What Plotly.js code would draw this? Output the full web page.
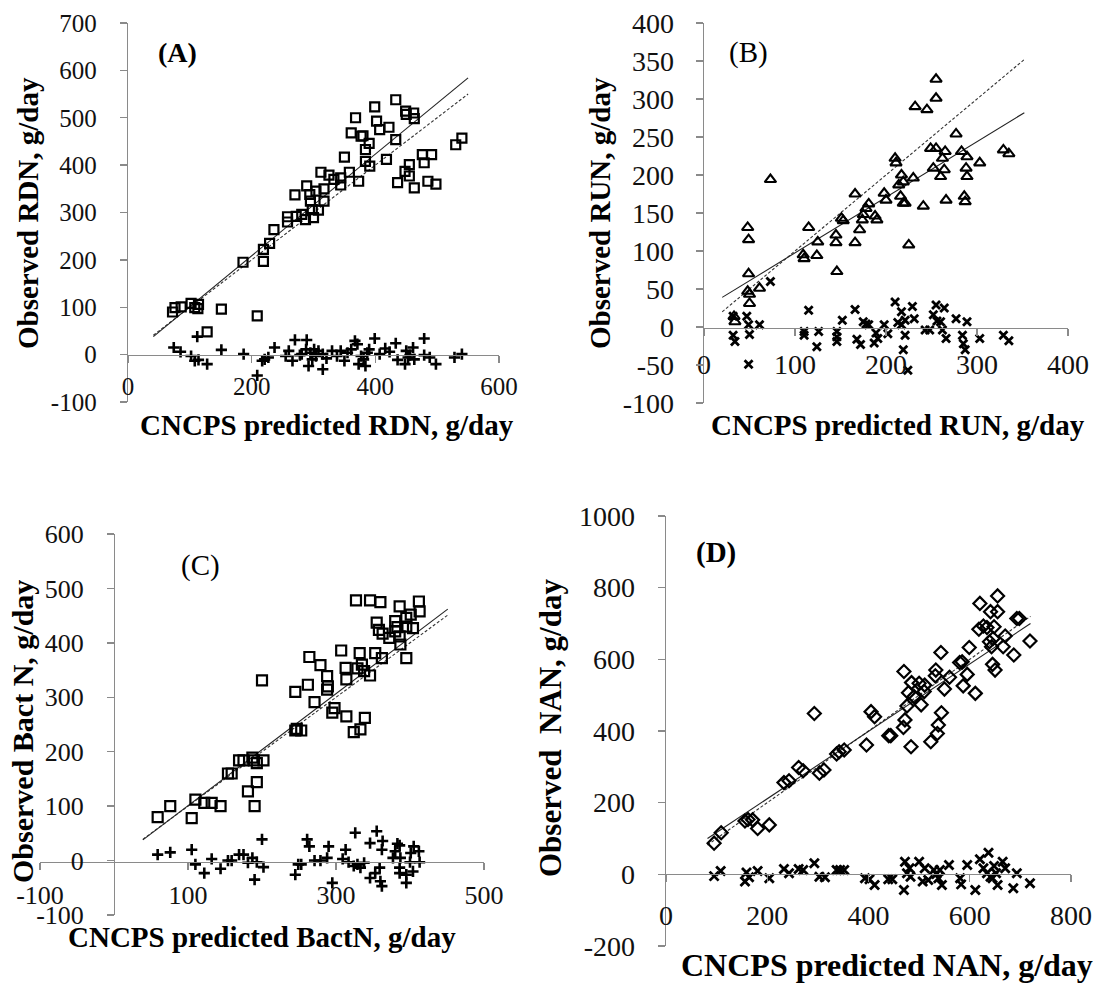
<!DOCTYPE html>
<html>
<head>
<meta charset="utf-8">
<script src="https://cdn.plot.ly/plotly-3.0.1.min.js"></script>
<style>html,body{margin:0;padding:0;background:#fff}#chart{width:1098px;height:984px}</style>
</head>
<body>
<div id="chart"></div>
<script>
// ---------- Panel A: RDN ----------
const predRDN = [72,76,86,102,108,114,113,151,128,209,186,219,219,229,236,258,258,270,272,281,287,289,294,295,298,300,304,308,312,317,317,325,333,344,344,350,358,361,368,373,377,380,384,384,390,391,399,402,407,422,418,433,433,436,448,449,450,455,455,462,463,463,476,479,485,491,498,530,540];
const obsRDN = [90,99,101,108,99,106,97,96,48,82,195,197,222,235,264,280,291,337,292,296,285,356,338,324,306,289,345,305,385,350,324,379,370,373,358,417,385,468,500,366,461,462,433,408,446,398,523,493,475,480,412,538,454,363,387,514,507,401,377,510,498,352,422,405,366,422,360,443,457];
const resPredRDN = [74,85,102,108,112,114,128,151,187,209,217,221,227,237,255,260,266,270,278,281,289,288,292,295,298,301,304,308,315,315,321,330,338,344,350,355,361,367,371,373,377,381,384,387,390,399,407,416,423,433,436,448,450,453,456,461,463,479,479,488,498,528,540];
const resRDN = [15,6,-3,-13,38,-11,-20,10,1,-44,-13,-10,-6,15,-3,8,-13,31,-1,1,31,11,-24,4,-10,11,-3,8,-31,1,-8,8,-3,8,-13,4,11,29,22,-20,-3,-10,-24,4,11,34,1,13,6,24,-11,-20,8,-6,-1,15,-10,34,-1,-6,-20,-6,1];
const lineXA = [41, 550];
const fitYA = [38, 584];
const xTicksA = [0, 200, 400, 600];
const yTicksA = [-100, 0, 100, 200, 300, 400, 500, 600, 700];

// ---------- Panel B: RUN ----------
const predRUN = [33,34,48,49,49,48,50,50,61,73,109,110,115,125,124,145,145,146,151,153,166,166,171,174,175,178,181,188,190,198,200,210,211,214,216,217,219,219,221,225,230,232,241,245,249,252,255,255,255,260,262,264,265,266,277,283,286,287,288,289,289,303,329,335];
const obsRUN = [14,7,131,115,70,47,43,31,51,194,95,90,131,112,94,121,111,73,143,140,175,111,128,141,148,156,162,146,141,176,167,222,216,187,172,200,191,163,163,108,196,290,159,286,235,209,326,301,235,198,222,207,231,167,254,231,172,165,209,224,198,216,233,228];
const resPredRUN = [32,32,34,47,49,50,49,61,73,110,110,115,126,124,146,146,146,152,166,168,172,175,178,181,187,189,191,198,202,210,213,217,217,219,221,221,224,229,231,243,248,252,255,256,260,262,264,266,277,284,285,287,289,303,329,335];
const resRUN = [14,-11,-19,14,3,-10,-49,3,60,-6,-11,22,-6,-26,-6,-13,-19,9,23,-16,-23,7,4,3,-21,-8,-15,3,-9,33,6,20,3,-30,9,-11,-57,27,11,-4,-4,16,29,8,7,-4,25,-15,11,-11,-22,-30,7,-15,-11,-18];
const lineXB = [20, 352];
const fitYB = [39, 282];
const xTicksB = [0, 100, 200, 300, 400];
const yTicksB = [-100, -50, 0, 50, 100, 150, 200, 250, 300, 350, 400];

// ---------- Panel C: Bact N ----------
const predBactN = [59,76,105,110,122,132,144,154,159,169,175,181,187,189,190,193,193,202,200,245,247,253,245,262,264,271,279,288,288,289,295,298,307,313,314,314,324,327,329,332,333,335,338,339,346,346,355,353,358,360,362,363,372,380,380,383,386,386,387,395,395,395,401,404,412,413];
const obsBactN = [80,100,78,112,106,106,100,160,160,184,184,127,189,184,100,179,144,184,331,239,242,239,310,323,374,291,359,339,314,320,272,280,386,354,333,265,236,478,353,381,241,360,348,262,340,478,437,381,424,475,372,417,409,440,421,429,467,412,397,372,430,446,452,427,476,458];
const resPredBactN = [59,76,105,110,122,132,144,154,159,169,175,181,187,190,193,200,202,245,249,253,261,264,271,279,288,290,295,309,313,317,324,326,329,333,338,346,346,353,355,359,360,362,362,363,377,380,383,386,386,386,387,395,395,400,401,404,405,412,413];
const resBactN = [11,15,20,-7,-23,3,-15,0,0,11,11,-4,5,-35,-3,39,-12,-26,-7,-7,39,26,0,0,5,26,-41,3,20,-3,-10,51,-7,-13,-4,-32,32,-23,54,-13,-38,20,-47,36,5,17,31,28,-13,-23,5,-41,-26,-3,14,-20,26,17,-3];
const lineXC = [39, 451];
const fitYC = [38, 462];
const xTicksC = [-100, 100, 300, 500];
const yTicksC = [-100, 0, 100, 200, 300, 400, 500, 600];

// ---------- Panel D: NAN ----------
const predNAN = [95,109,156,162,171,181,204,233,243,262,271,293,303,312,337,342,352,396,405,412,440,444,470,469,472,476,479,484,485,490,500,504,510,511,523,532,533,536,538,544,543,550,560,580,585,587,595,599,611,620,618,627,634,639,641,643,645,646,648,650,655,655,666,670,687,693,698,719];
const obsNAN = [87,116,149,153,152,128,138,256,261,298,289,449,282,291,336,342,347,361,454,440,387,387,566,410,431,470,507,356,535,496,533,473,510,528,370,554,570,393,417,451,619,517,550,591,593,526,558,633,505,756,684,693,689,649,733,635,586,658,691,570,777,733,635,665,612,714,714,651];
const resPredNAN = [95,108,156,159,164,181,204,233,243,262,271,293,303,314,337,344,352,393,402,412,439,447,470,472,476,481,483,500,507,511,518,529,534,538,541,545,559,581,583,595,611,620,627,634,637,641,645,648,652,655,665,670,686,693,719];
const resNAN = [-5,9,-20,5,-8,9,-11,15,3,15,12,31,-7,-8,12,12,12,-11,-14,-30,-14,-14,-44,35,3,17,-7,35,-20,17,-16,12,1,-11,12,-30,26,-11,-28,26,-44,42,17,3,60,-7,-11,23,3,-30,35,17,-39,3,-25];
const lineXD = [82, 720];
const fitYD = [100, 700];
const xTicksD = [0, 200, 400, 600, 800];
const yTicksD = [-200, 0, 200, 400, 600, 800, 1000];

// ---------- Text ----------
const panelLabels = ['(A)', '(B)', '(C)', '(D)'];
const xTitles = ['CNCPS predicted RDN, g/day', 'CNCPS predicted RUN, g/day', 'CNCPS predicted BactN, g/day', 'CNCPS predicted NAN, g/day'];
const yTitles = ['Observed RDN, g/day', 'Observed RUN, g/day', 'Observed Bact N, g/day', 'Observed\u00a0 NAN, g/day'];

const FONT = 'Liberation Serif';
const INK = '#000';

function lineTraces(xs, ys, ax) {
  return [
    {x: xs, y: xs, xaxis: 'x' + ax, yaxis: 'y' + ax, mode: 'lines', type: 'scatter',
     line: {color: '#333', width: 1.1, dash: '3px,2px'}, hoverinfo: 'skip', cliponaxis: false},
    {x: xs, y: ys, xaxis: 'x' + ax, yaxis: 'y' + ax, mode: 'lines', type: 'scatter',
     line: {color: '#222', width: 1.1}, hoverinfo: 'skip', cliponaxis: false}
  ];
}
function markTrace(xs, ys, ax, symbol, size, lw) {
  return {x: xs, y: ys, xaxis: 'x' + ax, yaxis: 'y' + ax, mode: 'markers', type: 'scatter', cliponaxis: false,
    marker: {symbol: symbol, size: size, color: INK, line: {color: INK, width: lw}}};
}

const data = [].concat(
  lineTraces(lineXA, fitYA, ''),
  [markTrace(predRDN, obsRDN, '', 'square-open', 9, 2.2), markTrace(resPredRDN, resRDN, '', 'cross-thin-open', 8, 2.6)],
  lineTraces(lineXB, fitYB, '2'),
  [markTrace(predRUN, obsRUN, '2', 'triangle-up-open', 10, 2.1), markTrace(resPredRUN, resRUN, '2', 'x-thin-open', 8, 2.8)],
  lineTraces(lineXC, fitYC, '3'),
  [markTrace(predBactN, obsBactN, '3', 'square-open', 10, 2.2), markTrace(resPredBactN, resBactN, '3', 'cross-thin-open', 8, 2.6)],
  lineTraces(lineXD, fitYD, '4'),
  [markTrace(predNAN, obsNAN, '4', 'diamond-open', 10, 2.2), markTrace(resPredNAN, resNAN, '4', 'x-thin-open', 9, 2.8)]
);

const W = 1098, H = 984;
const px = v => v / W;
const py = v => 1 - v / H;
const lbl = arr => arr.map(v => String(v));

function axis(extra, ticks, tickSize) {
  return Object.assign({
    showline: true, linecolor: '#8a8a8a', linewidth: 1.3,
    ticks: 'outside', ticklen: 7, tickwidth: 1.3, tickcolor: '#8a8a8a',
    showgrid: false, zeroline: false, fixedrange: true,
    tickmode: 'array', tickvals: ticks, ticktext: lbl(ticks),
    tickfont: {family: FONT, size: tickSize, color: '#111'}
  }, extra);
}

const layout = {
  width: W, height: H,
  margin: {l: 0, r: 0, t: 0, b: 0},
  paper_bgcolor: '#fff', plot_bgcolor: 'rgba(0,0,0,0)',
  showlegend: false,
  font: {family: FONT},
  xaxis: axis({domain: [px(128), px(499)], range: [0, 600], anchor: 'free', position: py(355), ticklabelstandoff: 2}, xTicksA, 25),
  yaxis: axis({domain: [py(402), py(23)], range: [-100, 700], anchor: 'x', ticklabelstandoff: 18}, yTicksA, 25),
  xaxis2: axis({domain: [px(704), px(1068)], range: [0, 400], anchor: 'free', position: py(327.5), ticklabelstandoff: 5}, xTicksB, 28),
  yaxis2: axis({domain: [py(403), py(23)], range: [-100, 400], anchor: 'x2', ticklabelstandoff: 16}, yTicksB, 28),
  xaxis3: axis({domain: [px(40), px(484)], range: [-100, 500], anchor: 'free', position: py(862), ticklabelstandoff: 2}, xTicksC, 26),
  yaxis3: axis({domain: [py(915), py(534)], range: [-100, 600], anchor: 'free', position: px(114), ticklabelstandoff: 18}, yTicksC, 26),
  xaxis4: axis({domain: [px(666), px(1071)], range: [0, 800], anchor: 'free', position: py(874), ticklabelstandoff: 9}, xTicksD, 28),
  yaxis4: axis({domain: [py(946), py(516)], range: [-200, 1000], anchor: 'x4', ticklabelstandoff: 17}, yTicksD, 28),
  annotations: []
};

function ann(text, x, y, size, bold, angle) {
  return {text: text, xref: 'paper', yref: 'paper', x: px(x), y: py(y), xanchor: 'center', yanchor: 'middle',
    showarrow: false, textangle: angle || 0,
    font: {family: FONT, size: size, color: INK, weight: bold ? 'bold' : 'normal'}};
}
layout.annotations.push(
  ann(panelLabels[0], 177, 52, 28, true),
  ann(panelLabels[1], 748, 52, 29, false),
  ann(panelLabels[2], 200, 565, 29, false),
  ann(panelLabels[3], 716, 552, 29, true),
  ann(xTitles[0], 327, 425, 29, true),
  ann(xTitles[1], 898, 425, 29, true),
  ann(xTitles[2], 262, 937, 29, true),
  ann(xTitles[3], 887, 965, 32, true),
  ann(yTitles[0], 28, 213, 29, true, -90),
  ann(yTitles[1], 600, 213, 29, true, -90),
  ann(yTitles[2], 22, 732, 30, true, -90),
  ann(yTitles[3], 550, 728, 31, true, -90)
);

Plotly.newPlot('chart', data, layout, {staticPlot: true, displayModeBar: false});
</script>
</body>
</html>
